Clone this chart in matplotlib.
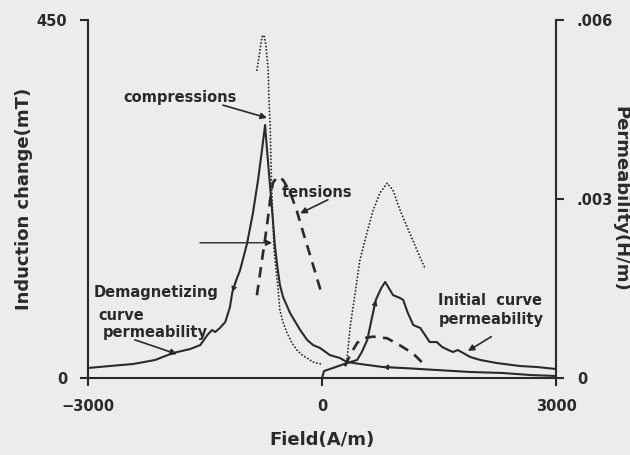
import numpy as np
import matplotlib
matplotlib.use("Agg")
import matplotlib.pyplot as plt

# Demagnetizing curve permeability: field (A/m), permeability (1e-4 H/m)
demag_field = [-3000, -2720, -2420, -2140, -1910, -1690, -1560, -1470, -1410, -1370,
               -1310, -1240, -1180, -1150, -1100, -1050, -960, -885, -820, -770,
               -730, -705, -665, -630, -605, -575, -540, -500, -410, -280,
               -190, -115, -25, 100, 230, 320, 490, 780, 1040, 1470,
               1900, 2320, 2670, 3000]
demag_perm = [1.68, 2.01, 2.35, 3.02, 4.19, 4.86, 5.53, 7.21, 8.04, 7.71,
              8.38, 9.39, 11.9, 14.4, 16.4, 18.1, 22.6, 27.7, 33.2, 38.2,
              42.4, 38.2, 32.0, 26.5, 22.3, 18.9, 15.6, 13.6, 10.9, 8.04,
              6.37, 5.53, 5.03, 3.85, 3.35, 2.68, 2.35, 1.84, 1.68, 1.34,
              1.01, 0.84, 0.50, 0.34]

# Initial curve permeability
init_field = [0, 25, 140, 320, 450, 510, 580, 640, 690, 760,
              810, 910, 1000, 1040, 1100, 1170, 1260, 1320, 1380, 1470,
              1540, 1620, 1680, 1740, 1810, 1900, 2030, 2240, 2540, 2760, 3000]
init_perm = [0, 1.17, 1.68, 2.51, 3.02, 4.36, 6.37, 10.1, 13.1, 15.1,
             16.1, 13.9, 13.4, 13.1, 10.9, 8.88, 8.38, 7.21, 6.03, 6.03,
             5.20, 4.69, 4.36, 4.69, 4.19, 3.52, 3.02, 2.51, 2.01, 1.84, 1.51]

# Induction change (mT) under compression, dotted
comp_demag_field = [-835, -795, -770, -745, -720, -690, -680, -665, -655, -640,
                    -615, -590, -565, -540, -500, -450, -385, -320, -255, -190,
                    -115, -25, 15]
comp_demag_b = [387, 412, 429, 431, 419, 387, 349, 318, 274, 224,
                161, 136, 114, 85, 70, 57, 44, 35, 29, 25,
                20, 18, 16]
comp_init_field = [295, 320, 360, 425, 485, 575, 655, 745, 835, 910,
                   1000, 1090, 1165, 1255, 1320]
comp_init_b = [16, 23, 64, 107, 148, 182, 211, 233, 245, 236,
               211, 190, 173, 152, 138]

# Induction change (mT) under tension, dashed
tens_demag_field = [-835, -770, -705, -665, -630, -575, -500, -410, -320, -245,
                    -155, -75, 0]
tens_demag_b = [104, 148, 192, 224, 245, 253, 249, 234, 209, 184,
                155, 129, 104]
tens_init_field = [295, 360, 450, 525, 655, 835, 1000, 1165, 1320]
tens_init_b = [15, 29, 44, 50, 52, 50, 41, 31, 16]

field_ticks = [-3000, 0, 3000]
b_ticks = [0, 450]
perm_ticks = [0, 0.003, 0.006]
perm_labels = ['0', '.003', '.006']

ink = '#2a2a2a'
paper = '#ececec'
plt.rcParams['font.family'] = 'DejaVu Sans'
plt.rcParams['font.weight'] = 'bold'

fig = plt.figure(figsize=(6.3, 4.55), dpi=100, facecolor=paper)
ax = fig.add_axes([0.1397, 0.1692, 0.7429, 0.7868])
ax.set_facecolor(paper)
ax2 = ax.twinx()

ax.set_xlim(-3000, 3000)
ax.set_ylim(0, 450)
ax2.set_ylim(0, 0.006)

perm_d = np.array(demag_perm) * 1e-4
perm_i = np.array(init_perm) * 1e-4

# permeability curves (solid, right axis)
ax2.plot(demag_field, perm_d, color=ink, lw=1.5)
ax2.plot(init_field, perm_i, color=ink, lw=1.5)

# induction change curves (left axis)
dots = dict(color=ink, lw=1.4, ls=(0, (0.01, 1.75)), dash_capstyle='round')
dashes = dict(color=ink, lw=1.9, ls=(0, (4.0, 2.8)))
ax.plot(comp_demag_field, comp_demag_b, **dots)
ax.plot(comp_init_field, comp_init_b, **dots)
ax.plot(tens_demag_field, tens_demag_b, **dashes)
ax.plot(tens_init_field, tens_init_b, **dashes)


def direction_head(axis, xs, ys, i, j):
    # small arrowhead on a curve, pointing from point i to point j
    axis.annotate('', xy=(xs[j], ys[j]), xytext=(xs[i], ys[i]),
                  arrowprops=dict(arrowstyle='-|>', color=ink, lw=0.8,
                                  mutation_scale=8, shrinkA=0, shrinkB=0))


direction_head(ax2, demag_field, perm_d, 14, 13)
direction_head(ax2, demag_field, perm_d, 38, 37)
direction_head(ax2, init_field, perm_i, 7, 8)

# spines and ticks
for a in (ax, ax2):
    a.spines['top'].set_visible(False)
    for s in a.spines.values():
        s.set_linewidth(1.5)
        s.set_color(ink)
ax.spines['right'].set_visible(False)
ax2.spines['left'].set_visible(False)
ax2.spines['bottom'].set_visible(False)

ax.set_xticks(field_ticks)
ax.set_yticks(b_ticks)
ax2.set_yticks(perm_ticks)
ax2.set_yticklabels(perm_labels)
for a in (ax, ax2):
    a.tick_params(direction='out', length=6, width=1.5, pad=9,
                  labelsize=10.5, colors=ink)

lab = dict(fontsize=13, fontweight='bold', color=ink)
ax.set_xlabel('Field(A/m)', va='center', **lab)
ax.xaxis.set_label_coords(0.5, -0.173)
ax.set_ylabel('Induction change(mT)', va='center', **lab)
ax.yaxis.set_label_coords(-0.137, 0.5)
ax2.set_ylabel('Permeability(H/m)', rotation=-90, va='center', **lab)
ax2.yaxis.set_label_coords(1.137, 0.5)

# annotations
txt = dict(fontsize=10.5, fontweight='bold', color=ink, va='center')
arw = dict(arrowstyle='-|>', color=ink, lw=1.2, mutation_scale=9,
           shrinkA=0, shrinkB=0)
ax.text(-2550, 352, 'compressions', **txt)
ax.annotate('', xy=(-705, 327), xytext=(-1270, 343), arrowprops=arw)
ax.text(-515, 233, 'tensions', **txt)
ax.annotate('', xy=(-280, 207), xytext=(75, 224), arrowprops=arw)
ax.annotate('', xy=(-640, 170), xytext=(-1565, 170),
            arrowprops=dict(arw, lw=1.0))
ax.text(-2925, 107, 'Demagnetizing', **txt)
ax.text(-2870, 78, 'curve', **txt)
ax.text(-2810, 57, 'permeability', **txt)
ax.annotate('', xy=(-1860, 30), xytext=(-2400, 48), arrowprops=arw)
ax.text(1490, 97, 'Initial  curve', **txt)
ax.text(1490, 73, 'permeability', **txt)
ax.annotate('', xy=(1870, 34), xytext=(2170, 52), arrowprops=arw)

fig.savefig('out.png', dpi=100, facecolor=paper)
